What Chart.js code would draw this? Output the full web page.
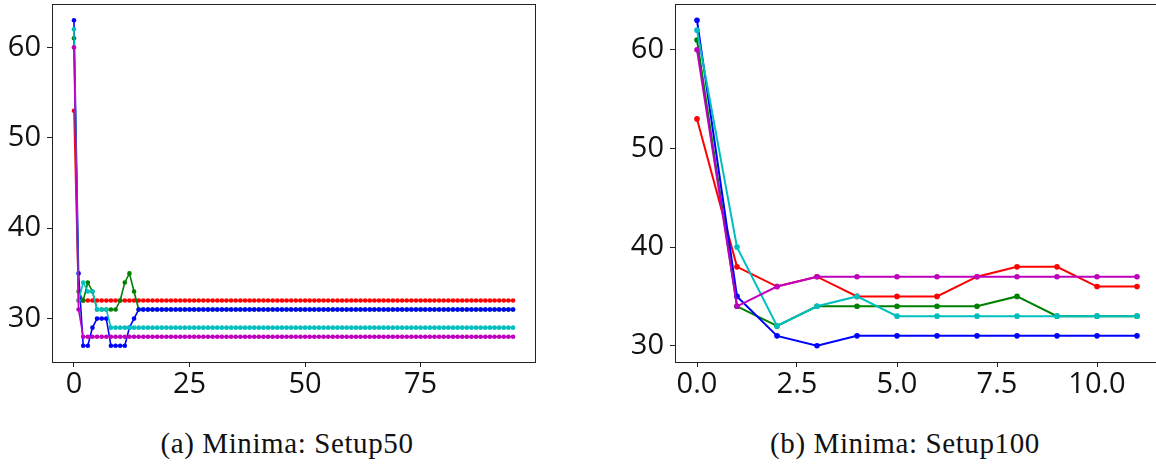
<!DOCTYPE html>
<html>
<head>
<meta charset="utf-8">
<script src="https://cdn.jsdelivr.net/npm/chart.js@4/dist/chart.umd.min.js"></script>
<style>
  body { margin: 0; width: 1156px; height: 468px; overflow: hidden; background: #fff; position: relative; }
  .panel { position: absolute; top: 0; width: 545px; height: 400px; }
  #wrapA { left: 0; }
  #wrapB { left: 623px; }
  .caption { position: absolute; top: 428px; width: 400px; text-align: center;
             font-family: "Liberation Serif", serif; font-size: 29px; line-height: 30px;
             letter-spacing: 0.6px; color: #111; }
  #capA { left: 87px; }
  #capB { left: 705px; }
</style>
</head>
<body>
<div class="panel" id="wrapA"><canvas id="chartA"></canvas></div>
<div class="panel" id="wrapB"><canvas id="chartB"></canvas></div>
<div class="caption" id="capA">(a) Minima: Setup50</div>
<div class="caption" id="capB">(b) Minima: Setup100</div>
<script>
// ---- (a) Setup50: 96 steps ----
const stepsA = [
  0, 1, 2, 3, 4, 5, 6, 7, 8, 9, 10, 11, 12, 13, 14, 15,
  16, 17, 18, 19, 20, 21, 22, 23, 24, 25, 26, 27, 28, 29, 30, 31,
  32, 33, 34, 35, 36, 37, 38, 39, 40, 41, 42, 43, 44, 45, 46, 47,
  48, 49, 50, 51, 52, 53, 54, 55, 56, 57, 58, 59, 60, 61, 62, 63,
  64, 65, 66, 67, 68, 69, 70, 71, 72, 73, 74, 75, 76, 77, 78, 79,
  80, 81, 82, 83, 84, 85, 86, 87, 88, 89, 90, 91, 92, 93, 94, 95
];
const redA = [
  53, 32, 32, 32, 32, 32, 32, 32, 32, 32, 32, 32, 32, 32, 32, 32,
  32, 32, 32, 32, 32, 32, 32, 32, 32, 32, 32, 32, 32, 32, 32, 32,
  32, 32, 32, 32, 32, 32, 32, 32, 32, 32, 32, 32, 32, 32, 32, 32,
  32, 32, 32, 32, 32, 32, 32, 32, 32, 32, 32, 32, 32, 32, 32, 32,
  32, 32, 32, 32, 32, 32, 32, 32, 32, 32, 32, 32, 32, 32, 32, 32,
  32, 32, 32, 32, 32, 32, 32, 32, 32, 32, 32, 32, 32, 32, 32, 32
];
const greenA = [
  61, 33, 32, 34, 33, 31, 31, 31, 31, 31, 32, 34, 35, 33, 31, 31,
  31, 31, 31, 31, 31, 31, 31, 31, 31, 31, 31, 31, 31, 31, 31, 31,
  31, 31, 31, 31, 31, 31, 31, 31, 31, 31, 31, 31, 31, 31, 31, 31,
  31, 31, 31, 31, 31, 31, 31, 31, 31, 31, 31, 31, 31, 31, 31, 31,
  31, 31, 31, 31, 31, 31, 31, 31, 31, 31, 31, 31, 31, 31, 31, 31,
  31, 31, 31, 31, 31, 31, 31, 31, 31, 31, 31, 31, 31, 31, 31, 31
];
const blueA = [
  63, 35, 27, 27, 29, 30, 30, 30, 27, 27, 27, 27, 29, 30, 31, 31,
  31, 31, 31, 31, 31, 31, 31, 31, 31, 31, 31, 31, 31, 31, 31, 31,
  31, 31, 31, 31, 31, 31, 31, 31, 31, 31, 31, 31, 31, 31, 31, 31,
  31, 31, 31, 31, 31, 31, 31, 31, 31, 31, 31, 31, 31, 31, 31, 31,
  31, 31, 31, 31, 31, 31, 31, 31, 31, 31, 31, 31, 31, 31, 31, 31,
  31, 31, 31, 31, 31, 31, 31, 31, 31, 31, 31, 31, 31, 31, 31, 31
];
const cyanA = [
  62, 32, 34, 33, 33, 31, 31, 31, 29, 29, 29, 29, 29, 29, 29, 29,
  29, 29, 29, 29, 29, 29, 29, 29, 29, 29, 29, 29, 29, 29, 29, 29,
  29, 29, 29, 29, 29, 29, 29, 29, 29, 29, 29, 29, 29, 29, 29, 29,
  29, 29, 29, 29, 29, 29, 29, 29, 29, 29, 29, 29, 29, 29, 29, 29,
  29, 29, 29, 29, 29, 29, 29, 29, 29, 29, 29, 29, 29, 29, 29, 29,
  29, 29, 29, 29, 29, 29, 29, 29, 29, 29, 29, 29, 29, 29, 29, 29
];
const magentaA = [
  60, 31, 28, 28, 28, 28, 28, 28, 28, 28, 28, 28, 28, 28, 28, 28,
  28, 28, 28, 28, 28, 28, 28, 28, 28, 28, 28, 28, 28, 28, 28, 28,
  28, 28, 28, 28, 28, 28, 28, 28, 28, 28, 28, 28, 28, 28, 28, 28,
  28, 28, 28, 28, 28, 28, 28, 28, 28, 28, 28, 28, 28, 28, 28, 28,
  28, 28, 28, 28, 28, 28, 28, 28, 28, 28, 28, 28, 28, 28, 28, 28,
  28, 28, 28, 28, 28, 28, 28, 28, 28, 28, 28, 28, 28, 28, 28, 28
];
const xTicksA = [0, 25, 50, 75];
const yTicksA = [30, 40, 50, 60];

// ---- (b) Setup100: 12 steps ----
const stepsB = [0, 1, 2, 3, 4, 5, 6, 7, 8, 9, 10, 11];
const redB = [53, 38, 36, 37, 35, 35, 35, 37, 38, 38, 36, 36];
const greenB = [61, 34, 32, 34, 34, 34, 34, 34, 35, 33, 33, 33];
const blueB = [63, 35, 31, 30, 31, 31, 31, 31, 31, 31, 31, 31];
const cyanB = [62, 40, 32, 34, 35, 33, 33, 33, 33, 33, 33, 33];
const magentaB = [60, 34, 36, 37, 37, 37, 37, 37, 37, 37, 37, 37];
const xTicksB = [0, 2.5, 5, 7.5, 10];
const yTicksB = [30, 40, 50, 60];

const colors = ['#ff0000', '#008000', '#0000ff', '#00bfbf', '#bf00bf'];

// matplotlib-style box around the axes
const framePlugin = {
  id: 'frame',
  afterDatasetsDraw(chart) {
    const { ctx, chartArea: a } = chart;
    ctx.save();
    ctx.strokeStyle = '#222';
    ctx.lineWidth = 1;
    ctx.strokeRect(Math.round(a.left) + 0.5, Math.round(a.top) + 0.5,
                   Math.round(a.right - a.left), Math.round(a.bottom - a.top));
    ctx.restore();
  }
};

function pad5(lo, hi) {
  const m = (hi - lo) * 0.05;
  return [lo - m, hi + m];
}

function makeChart(id, steps, series, xTicks, yTicks, xFmt, pointR, lineW, padRight) {
  const all = [].concat(...series);
  const [ymin, ymax] = pad5(Math.min(...all), Math.max(...all));
  const [xmin, xmax] = pad5(steps[0], steps[steps.length - 1]);
  const tickFont = { family: 'Open Sans', size: 29 };

  return new Chart(document.getElementById(id), {
    type: 'line',
    data: {
      labels: steps,
      datasets: series.map((vals, i) => ({
        data: vals,
        borderColor: colors[i],
        backgroundColor: colors[i],
        borderWidth: lineW,
        pointRadius: pointR,
        pointBorderWidth: 0,
        pointHoverRadius: pointR,
        tension: 0,
        fill: false,
        order: series.length - i,
      })),
    },
    options: {
      responsive: true,
      maintainAspectRatio: false,
      animation: false,
      events: [],
      layout: { padding: { top: 4, right: padRight, left: 0, bottom: 0 } },
      plugins: { legend: { display: false }, tooltip: { enabled: false } },
      scales: {
        x: {
          type: 'linear',
          min: xmin,
          max: xmax,
          afterBuildTicks: (axis) => { axis.ticks = xTicks.map(v => ({ value: v })); },
          afterFit: (axis) => {
            axis.height = 38;
            axis.paddingLeft = 0;
            axis.paddingRight = 0;
          },
          border: { display: false },
          grid: { display: true, drawOnChartArea: false, drawTicks: true, tickLength: 5, color: '#222' },
          ticks: { color: '#111', font: tickFont, padding: 0, maxRotation: 0,
                   callback: (v) => xFmt(v) },
        },
        y: {
          type: 'linear',
          min: ymin,
          max: ymax,
          afterBuildTicks: (axis) => { axis.ticks = yTicks.map(v => ({ value: v })); },
          afterFit: (axis) => {
            axis.width = 52;
            axis.paddingTop = 0;
            axis.paddingBottom = 0;
          },
          border: { display: false },
          grid: { display: true, drawOnChartArea: false, drawTicks: true, tickLength: 5, color: '#222' },
          ticks: { color: '#111', font: tickFont, padding: 6, callback: (v) => String(v) },
        },
      },
    },
    plugins: [framePlugin],
  });
}

makeChart('chartA', stepsA, [redA, greenA, blueA, cyanA, magentaA],
          xTicksA, yTicksA, (v) => String(v), 2.3, 1.6, 10);
makeChart('chartB', stepsB, [redB, greenB, blueB, cyanB, magentaB],
          xTicksB, yTicksB, (v) => v.toFixed(1), 2.8, 2, 9);
</script>
</body>
</html>
